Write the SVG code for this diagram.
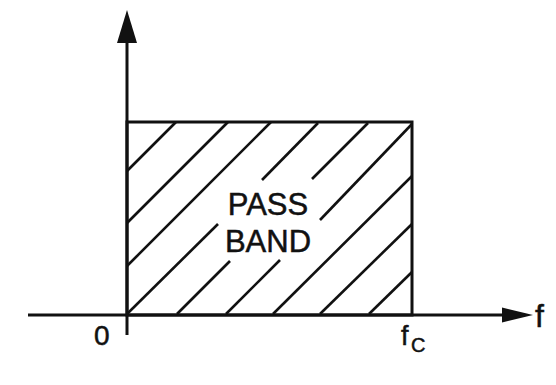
<svg xmlns="http://www.w3.org/2000/svg" width="556" height="385" viewBox="0 0 556 385">
<style>
.ln{stroke:#111;stroke-width:3;fill:none;stroke-linecap:butt}
.h{stroke:#111;stroke-width:2.6;fill:none}
.t{font-family:"Liberation Sans",Arial,sans-serif;fill:#111;stroke:#111;stroke-width:0.5}
</style>
<rect width="556" height="385" fill="#fff"/>
<g id="axes">
<line class="ln" x1="127" y1="38" x2="127" y2="335"/>
<polygon points="127,10 137,43 117,43" fill="#111"/>
<line class="ln" x1="28" y1="315" x2="506" y2="315"/>
<polygon points="533,315 502,307.5 502,322.5" fill="#111"/>
</g>
<g id="passband">
<rect class="ln" x="127" y="122" width="285" height="193"/>
<g id="hatch">
<line class="h" x1="127" y1="171" x2="176" y2="122"/>
<line class="h" x1="127" y1="223" x2="228" y2="122"/>
<line class="h" x1="127" y1="266" x2="271" y2="122"/>
<line class="h" x1="127" y1="314" x2="218" y2="224"/>
<line class="h" x1="262" y1="180" x2="318" y2="123"/>
<line class="h" x1="177" y1="314" x2="230" y2="261"/>
<line class="h" x1="312" y1="179" x2="368" y2="123"/>
<line class="h" x1="226" y1="314" x2="280" y2="260"/>
<line class="h" x1="320" y1="220" x2="412" y2="124"/>
<line class="h" x1="273" y1="314" x2="412" y2="176"/>
<line class="h" x1="320" y1="314" x2="412" y2="224"/>
<line class="h" x1="369" y1="314" x2="412" y2="272"/>
</g>
<text class="t" x="268" y="215" font-size="31" text-anchor="middle">PASS</text>
<text class="t" x="268" y="252" font-size="31" text-anchor="middle">BAND</text>
</g>
<g id="labels">
<text class="t" x="94" y="345" font-size="28">0</text>
<text class="t" x="401" y="345" font-size="27">f</text>
<text class="t" x="411" y="352" font-size="20">C</text>
<text class="t" x="535" y="327" font-size="32">f</text>
</g>
</svg>
